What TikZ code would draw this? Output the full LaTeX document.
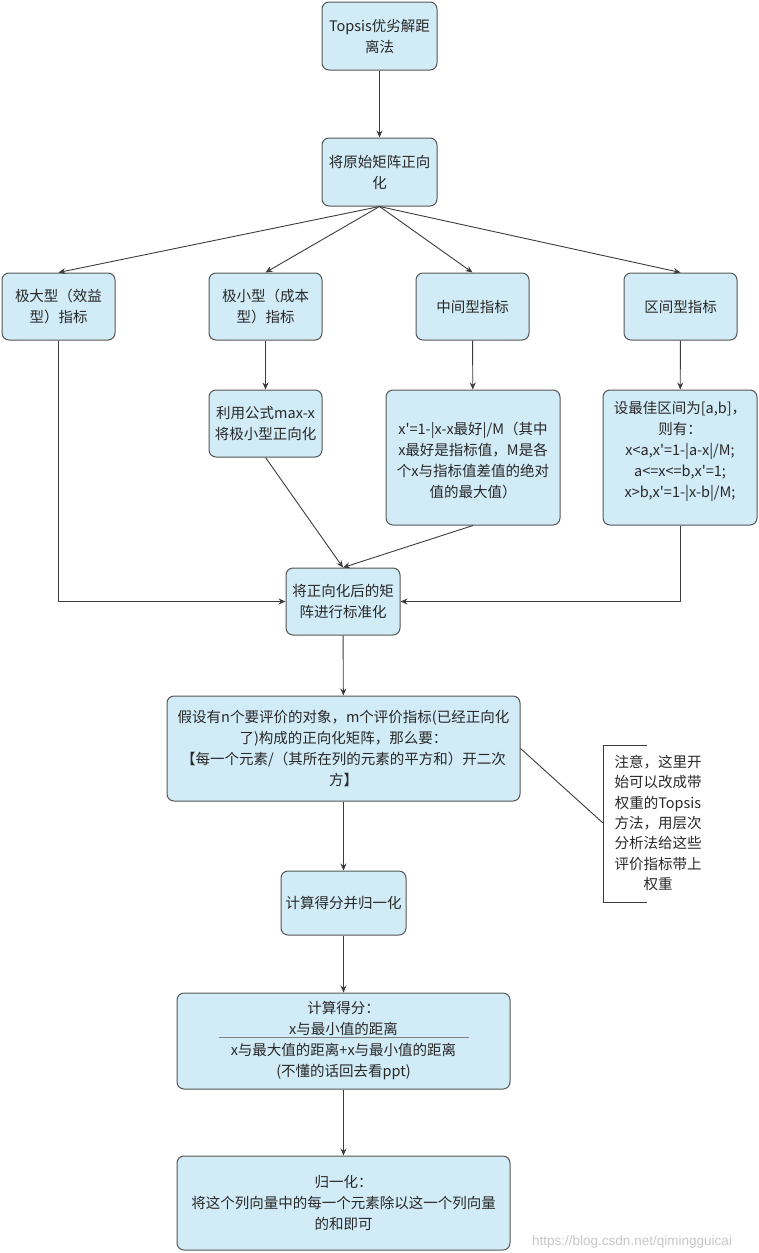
\documentclass[tikz,border=0pt]{standalone}
\usepackage{fontspec}
\setmainfont{Noto Sans CJK SC}[Ligatures=TeXOff]
\newfontfamily\wmfont{Liberation Sans}
\usetikzlibrary{arrows.meta,calc}
\definecolor{boxfill}{RGB}{209,235,247}
\definecolor{boxline}{RGB}{85,85,85}
\definecolor{edgecol}{RGB}{60,60,60}
\definecolor{txtcol}{RGB}{40,40,40}
\begin{document}
\begin{tikzpicture}[x=1pt,y=-1pt,
  box/.style={draw=boxline, fill=boxfill, line width=1pt, rounded corners=7pt, align=center, inner sep=2pt, text=txtcol, font=\fontsize{14.5}{21}\selectfont},
  arr/.style={draw=edgecol, line width=0.9pt, -{Stealth[length=7pt,width=6pt]}},
  ln/.style={draw=edgecol, line width=0.9pt}]
\useasboundingbox (0,0) rectangle (758,1253);
\node[box, minimum width=115pt, minimum height=68pt] (top) at (379.5,36) {Topsis优劣解距\\离法};
\node[box, minimum width=115pt, minimum height=68pt] (pos) at (379.5,172) {将原始矩阵正向\\化};
\node[box, minimum width=113pt, minimum height=67pt] (big) at (58.5,306.5) {极大型（效益\\型）指标};
\node[box, minimum width=113pt, minimum height=67pt] (small) at (265.5,306.5) {极小型（成本\\型）指标};
\node[box, minimum width=113pt, minimum height=67pt] (mid) at (472.5,306.5) {中间型指标};
\node[box, minimum width=113pt, minimum height=67pt] (intv) at (680.5,306.5) {区间型指标};
\node[box, minimum width=113pt, minimum height=67pt] (formula) at (265.5,423.5) {利用公式max-x\\将极小型正向化};
\node[box, minimum width=174pt, minimum height=135pt] (midf) at (473,457.5) {\\[-2pt]x'=1-|x-x最好|/M（其中\\x最好是指标值，M是各\\个x与指标值差值的绝对\\值的最大值）};
\node[box, minimum width=154pt, minimum height=135pt] (intvf) at (680,457.5) {设最佳区间为[a,b]，\\则有：\\x<a,x'=1-|a-x|/M;\\a<=x<=b,x'=1;\\x>b,x'=1-|x-b|/M;\\[-4pt]\mbox{}};
\node[box, minimum width=114pt, minimum height=67pt] (norm) at (343,601.5) {将正向化后的矩\\阵进行标准化};
\node[box, minimum width=353pt, minimum height=105pt] (assume) at (343.5,748.5) {假设有n个要评价的对象，m个评价指标(已经正向化\\了)构成的正向化矩阵，那么要：\\【每一个元素/（其所在列的元素的平方和）开二次\\方】};
\node[box, minimum width=125pt, minimum height=64pt] (score) at (343.5,903) {计算得分并归一化};
\node[box, minimum width=333pt, minimum height=96pt] (calc) at (343.5,1041) {计算得分：\\x与最小值的距离\\x与最大值的距离+x与最小值的距离\\(不懂的话回去看ppt)};
\node[box, minimum width=333pt, minimum height=94pt] (unit) at (343.5,1203) {归一化：\\将这个列向量中的每一个元素除以这一个列向量\\的和即可};
\node[align=center, text=txtcol, font=\fontsize{14.5}{20.3}\selectfont] (note) at (658,823) {注意，这里开\\始可以改成带\\权重的Topsis\\方法，用层次\\分析法给这些\\评价指标带上\\权重};
\node[font=\wmfont\fontsize{13.5}{15}\selectfont, text=gray!45] (wm) at (632,1242) {https://blog.csdn.net/qimingguicai};
% fraction bar
\draw[draw=gray, line width=0.8pt] ($(calc.center)+(-125,-4)$) -- ($(calc.center)+(125,-4)$);
% bracket of note
\coordinate (brk) at (603,823);
\draw[ln] (647,745) -- (603,745) -- (603,902) -- (647,902);
% connectors
\draw[arr] (top) -- (pos);
\draw[arr] (pos.south) -- (big.north);
\draw[arr] (pos.south) -- (small.north);
\draw[arr] (pos.south) -- (mid.north);
\draw[arr] (pos.south) -- (intv.north);
\draw[arr] (small) -- (formula);
\draw[arr] (mid) -- (midf);
\draw[arr] (intv) -- (intvf);
\draw[arr] (formula.south) -- (norm.north);
\draw[arr] (midf.south) -- (norm.north);
\draw[arr] (big.south) |- (norm.west);
\draw[arr] (intvf.south) |- (norm.east);
\draw[arr] (norm) -- (assume);
\draw[arr] (assume) -- (score);
\draw[arr] (score) -- (calc);
\draw[arr] (calc) -- (unit);
\draw[ln] (assume.east) -- (brk);
\end{tikzpicture}
\end{document}
